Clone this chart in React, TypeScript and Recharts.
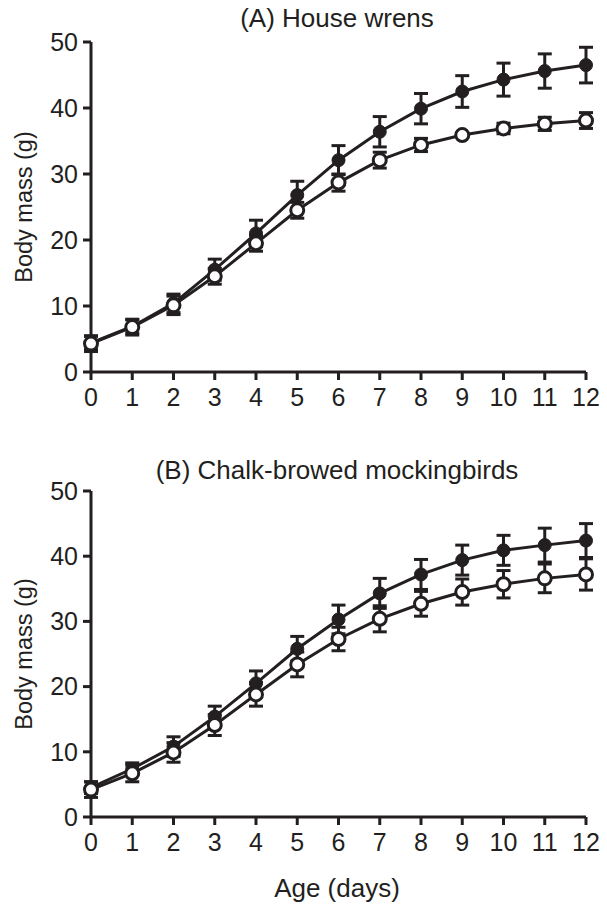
import React from 'react';
import { LineChart, Line, XAxis, YAxis, ErrorBar, Customized } from 'recharts';

const days = [0, 1, 2, 3, 4, 5, 6, 7, 8, 9, 10, 11, 12];
const yTicks = [0, 10, 20, 30, 40, 50];

const wrenFilled = [4.4, 6.9, 10.4, 15.5, 21.0, 26.8, 32.1, 36.4, 39.9, 42.5, 44.3, 45.6, 46.5];
const wrenFilledErr = [1.0, 1.0, 1.4, 1.6, 2.0, 2.1, 2.2, 2.3, 2.3, 2.4, 2.5, 2.6, 2.7];
const wrenOpen = [4.3, 6.8, 10.1, 14.5, 19.5, 24.5, 28.7, 32.1, 34.4, 35.9, 36.9, 37.6, 38.1];
const wrenOpenErr = [1.2, 1.2, 1.4, 1.2, 1.2, 1.2, 1.3, 1.2, 1.0, 0.3, 0.8, 1.0, 1.2];

const mockFilled = [4.5, 7.4, 10.8, 15.4, 20.5, 25.8, 30.3, 34.3, 37.2, 39.4, 40.9, 41.7, 42.4];
const mockFilledErr = [0.9, 0.9, 1.5, 1.6, 1.9, 1.9, 2.2, 2.3, 2.3, 2.3, 2.3, 2.6, 2.6];
const mockOpen = [4.2, 6.7, 9.9, 14.1, 18.8, 23.4, 27.3, 30.4, 32.7, 34.5, 35.7, 36.6, 37.2];
const mockOpenErr = [1.2, 1.3, 1.5, 1.6, 1.8, 1.9, 1.8, 2.0, 1.9, 2.0, 2.1, 2.2, 2.4];

const INK = '#231f20';
const FONT = 'Liberation Sans, Arial, sans-serif';

type Row = { day: number; filled: number; filledErr: number; open: number; openErr: number };

const buildRows = (f: number[], fe: number[], o: number[], oe: number[]): Row[] =>
  days.map((d, i) => ({ day: d, filled: f[i], filledErr: fe[i], open: o[i], openErr: oe[i] }));

const YLabel = ({ viewBox }: any) => {
  const cy = viewBox.y + viewBox.height / 2;
  return (
    <text x={24} y={cy} transform={`rotate(-90, 24, ${cy})`} textAnchor="middle" dominantBaseline="central"
      fill={INK} fontSize={23.5} fontFamily={FONT}>
      Body mass (g)
    </text>
  );
};

function Panel({ rows, title, titleY, height, top, bottom, xLabel }: {
  rows: Row[]; title: string; titleY: number; height: number; top: number; bottom: number; xLabel?: boolean;
}) {
  return (
    <LineChart width={607} height={height} data={rows} margin={{ top, right: 21, left: 0, bottom }}>
      <XAxis dataKey="day" type="number" domain={[0, 12]} ticks={days} interval={0}
        axisLine={{ stroke: INK, strokeWidth: 3 }} tickLine={{ stroke: INK, strokeWidth: 3 }}
        tickSize={8} tickMargin={8} height={40}
        tick={{ fill: INK, fontSize: 25, fontFamily: FONT }} />
      <YAxis type="number" domain={[0, 50]} ticks={yTicks} interval={0} width={91}
        axisLine={{ stroke: INK, strokeWidth: 3 }} tickLine={{ stroke: INK, strokeWidth: 3 }}
        tickSize={8} tickMargin={5}
        tick={{ fill: INK, fontSize: 25, fontFamily: FONT }}
        label={{ content: (p: any) => <YLabel viewBox={p.viewBox} /> }} />
      <Line type="linear" dataKey="filled" stroke={INK} strokeWidth={3} isAnimationActive={false}
        dot={{ r: 6.5, fill: INK, stroke: INK, strokeWidth: 1 }}>
        <ErrorBar dataKey="filledErr" direction="y" width={7} stroke={INK} strokeWidth={3} />
      </Line>
      <Line type="linear" dataKey="open" stroke={INK} strokeWidth={3} isAnimationActive={false}
        dot={{ r: 6.5, fill: '#fff', stroke: INK, strokeWidth: 3 }}>
        <ErrorBar dataKey="openErr" direction="y" width={7} stroke={INK} strokeWidth={3} />
      </Line>
      <Customized component={() => (
        <g fontFamily={FONT} fill={INK}>
          <text x={337} y={titleY} textAnchor="middle" dominantBaseline="central" fontSize={26}>{title}</text>
          {xLabel && (
            <text x={337} y={height - 22} textAnchor="middle" dominantBaseline="central" fontSize={26}>Age (days)</text>
          )}
        </g>
      )} />
    </LineChart>
  );
}

export default function App() {
  const wrens = buildRows(wrenFilled, wrenFilledErr, wrenOpen, wrenOpenErr);
  const mocks = buildRows(mockFilled, mockFilledErr, mockOpen, mockOpenErr);
  return (
    <div style={{ position: 'absolute', left: 0, top: 0, width: 607, height: 910, background: '#fff' }}>
      <div style={{ position: 'absolute', left: 0, top: 0 }}>
        <Panel rows={wrens} title="(A) House wrens" titleY={18} height={440} top={42} bottom={28} />
      </div>
      <div style={{ position: 'absolute', left: 0, top: 440 }}>
        <Panel rows={mocks} title="(B) Chalk-browed mockingbirds" titleY={30} height={470} top={51} bottom={53} xLabel />
      </div>
    </div>
  );
}
